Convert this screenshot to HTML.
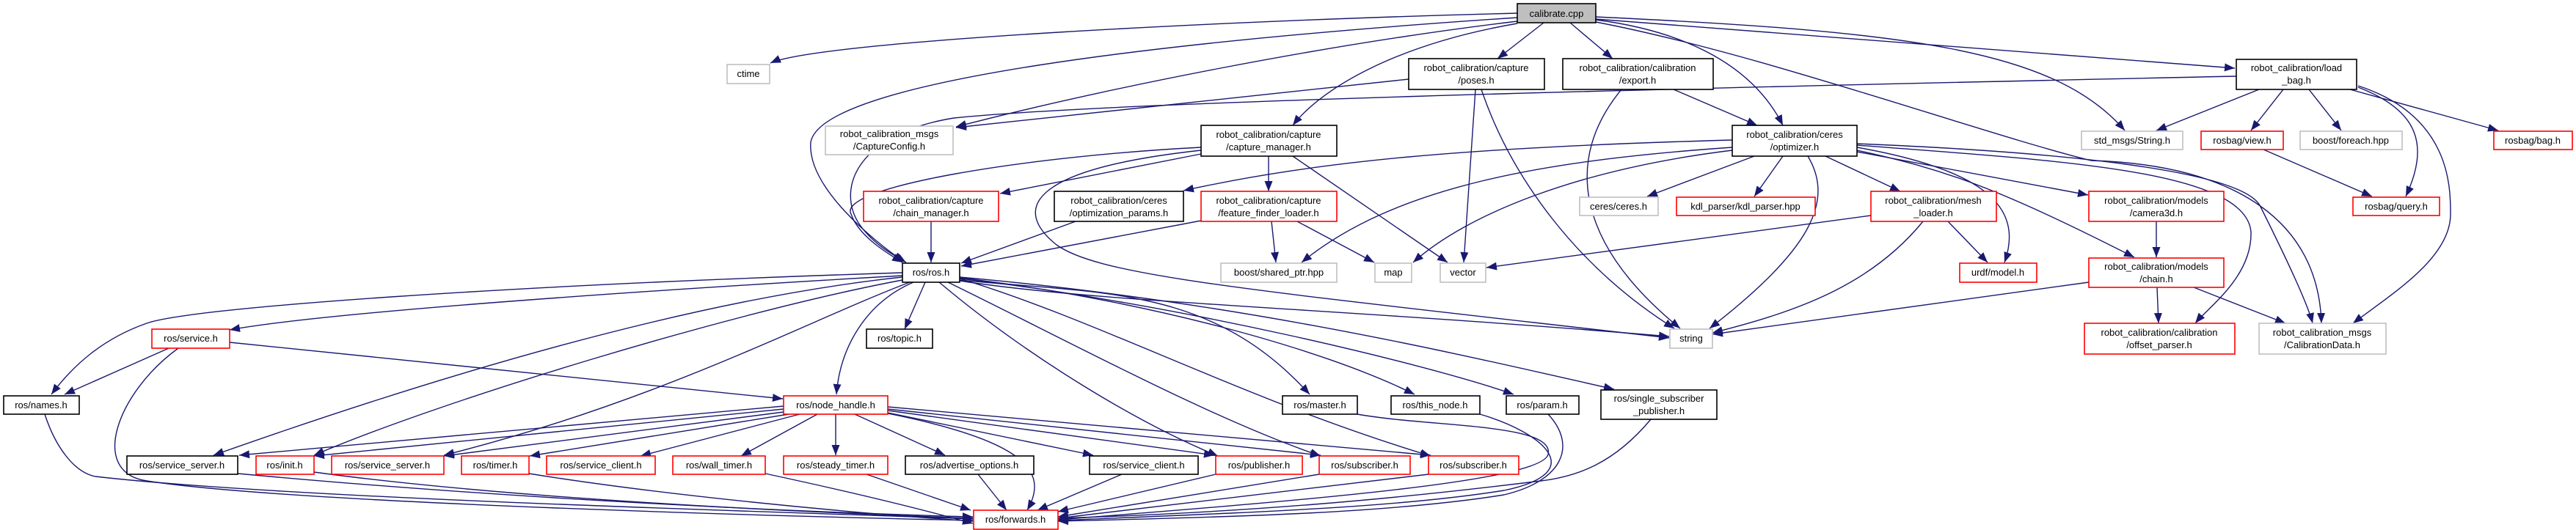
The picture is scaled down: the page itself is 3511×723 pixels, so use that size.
<!DOCTYPE html>
<html><head><meta charset="utf-8"><style>
html,body{margin:0;padding:0;background:#fff}
svg{display:block}
text{font-family:"Liberation Sans",sans-serif;font-size:13px;fill:#000}
</style></head><body>
<svg width="3511" height="723" viewBox="0 0 3511 723" xmlns="http://www.w3.org/2000/svg">
<defs>
<marker id="a" markerUnits="userSpaceOnUse" markerWidth="16" markerHeight="12" refX="14" refY="5.5" orient="auto">
<path d="M0,0 L14,5.5 L0,11 z" fill="#191970"/>
</marker>
</defs>
<g fill="none" stroke="#191970" stroke-width="1.4" marker-end="url(#a)">
<path d="M2068,18 C1700,27 1120,55 1050,86"/>
<path d="M2068,24 C1600,55 1120,109 1105,194 C1100,255 1190,328 1232,357"/>
<path d="M2068,29 C1800,61 1500,122 1303,173"/>
<path d="M2068,32 C1900,61 1800,122 1762,171"/>
<path d="M2104,31 L2041,80"/>
<path d="M2140,31 L2198,80"/>
<path d="M2175,27 C2300,43 2390,91 2430,171"/>
<path d="M2175,23 C2600,43 2800,67 2896,178"/>
<path d="M2175,26 C2500,49 2800,73 3046,93"/>
<path d="M2175,30 C2400,73 2700,182 2850,219 C3050,225 3160,304 3164,441"/>
<path d="M1920,108 L1303,174"/>
<path d="M2011,122 L1995,358"/>
<path d="M2019,122 C2060,243 2150,365 2282,448"/>
<path d="M2210,122 C2130,219 2150,334 2290,448"/>
<path d="M2281,122 L2395,171"/>
<path d="M1637,201 C1400,213 1140,255 1160,292 C1170,322 1210,346 1230,358"/>
<path d="M1637,210 L1363,264"/>
<path d="M1729,213 L1729,261"/>
<path d="M1762,213 L1973,358"/>
<path d="M1637,205 C1400,231 1380,286 1440,334 C1500,377 1700,395 2275,461"/>
<path d="M1269,302 L1269,358"/>
<path d="M1466,302 L1310,359"/>
<path d="M1637,301 L1310,363"/>
<path d="M1733,302 L1739,358"/>
<path d="M1768,302 L1873,358"/>
<path d="M2361,191 C2000,201 1800,219 1613,260"/>
<path d="M2361,201 C2100,219 1900,255 1774,358"/>
<path d="M2361,205 C2150,231 2000,292 1926,358"/>
<path d="M2391,213 L2245,268"/>
<path d="M2430,213 L2391,268"/>
<path d="M2464,213 C2500,273 2470,340 2330,448"/>
<path d="M2488,213 L2590,261"/>
<path d="M2531,201 C2700,231 2760,280 2732,358"/>
<path d="M2531,205 C2650,231 2720,255 2909,351"/>
<path d="M2531,207 L2846,266"/>
<path d="M2531,198 C2800,219 3060,231 3068,316 C3070,377 3010,419 2992,441"/>
<path d="M2531,196 C2800,207 3050,231 3080,280 C3110,340 3145,413 3152,441"/>
<path d="M2550,294 L2026,365"/>
<path d="M2621,302 C2550,389 2450,425 2334,454"/>
<path d="M2655,302 L2709,358"/>
<path d="M2939,302 L2939,351"/>
<path d="M2847,385 L2334,456"/>
<path d="M2940,392 L2942,441"/>
<path d="M2990,392 L3115,441"/>
<path d="M3048,104 C2200,122 1500,140 1300,161 C1170,182 1140,255 1170,304 C1190,334 1220,349 1235,358"/>
<path d="M3079,122 L2939,178"/>
<path d="M3112,122 L3068,178"/>
<path d="M3147,122 L3191,178"/>
<path d="M3203,122 L3405,178"/>
<path d="M3214,119 C3300,152 3310,201 3279,268"/>
<path d="M3214,117 C3340,158 3340,255 3340,292 C3340,352 3260,401 3207,441"/>
<path d="M3085,204 L3233,268"/>
<path d="M1230,372 C700,389 260,419 200,441 C140,462 100,498 70,538"/>
<path d="M1230,376 C900,395 450,425 313,450"/>
<path d="M1230,378 C900,413 500,547 291,621"/>
<path d="M1230,382 C1000,425 600,547 428,621"/>
<path d="M1240,385 C1100,438 900,547 605,621"/>
<path d="M1245,385 C1180,413 1145,474 1140,538"/>
<path d="M1261,385 L1233,449"/>
<path d="M1280,385 C1400,486 1550,577 1660,622"/>
<path d="M1292,385 C1450,462 1650,571 1800,622"/>
<path d="M1308,380 C1500,438 1700,547 1950,622"/>
<path d="M1308,382 C1500,401 1650,389 1785,538"/>
<path d="M1308,379 C1550,407 1800,474 1928,538"/>
<path d="M1308,380 C1600,413 1950,498 2063,538"/>
<path d="M1308,378 C1700,413 2000,486 2200,531"/>
<path d="M1308,383 C1500,413 1800,419 2275,459"/>
<path d="M230,475 L88,538"/>
<path d="M313,467 L1067,544"/>
<path d="M243,475 C160,535 120,644 200,656 C400,687 1100,705 1326,710"/>
<path d="M61,565 C75,608 100,644 130,650 C400,681 1100,699 1326,708"/>
<path d="M1068,554 L326,621"/>
<path d="M1068,558 L428,622"/>
<path d="M1068,562 L605,622"/>
<path d="M1075,565 L722,622"/>
<path d="M1090,565 L873,622"/>
<path d="M1114,565 L1010,622"/>
<path d="M1139,565 L1139,621"/>
<path d="M1165,565 L1288,621"/>
<path d="M1210,563 L1490,621"/>
<path d="M1210,560 L1655,621"/>
<path d="M1210,558 L1800,621"/>
<path d="M1210,555 L1950,621"/>
<path d="M1210,564 C1400,602 1430,644 1400,696"/>
<path d="M324,646 C700,681 1100,699 1326,705"/>
<path d="M428,644 C700,681 1100,699 1326,707"/>
<path d="M721,646 C900,675 1150,699 1326,711"/>
<path d="M1043,646 C1150,669 1250,693 1326,714"/>
<path d="M1181,647 L1323,696"/>
<path d="M1333,647 L1372,696"/>
<path d="M1529,647 L1414,696"/>
<path d="M1657,647 L1442,698"/>
<path d="M1798,647 L1442,705"/>
<path d="M1947,647 L1442,707"/>
<path d="M1850,565 C1950,583 2120,577 2110,620 C2100,656 1800,681 1442,709"/>
<path d="M2017,565 C2100,589 2170,644 2050,669 C1900,693 1700,699 1442,710"/>
<path d="M2110,565 C2150,608 2130,656 2050,675 C1900,699 1700,705 1442,711"/>
<path d="M2250,572 C2200,632 2150,650 2100,656 C1900,681 1700,699 1442,707"/>
</g>
<g stroke-width="1.6">
<rect x="2068" y="5" width="107" height="26" fill="#bfbfbf" stroke="#000"/>
<text x="2121.5" y="23" text-anchor="middle">calibrate.cpp</text>

<rect x="991" y="88" width="58" height="26" fill="#fff" stroke="#bfbfbf"/>
<text x="1020" y="105" text-anchor="middle">ctime</text>

<rect x="1125" y="172" width="174" height="39" fill="#fff" stroke="#bfbfbf"/>
<text x="1212" y="187" text-anchor="middle">robot_calibration_msgs</text><text x="1212" y="204" text-anchor="middle">/CaptureConfig.h</text>

<rect x="1920" y="80" width="185" height="42" fill="#fff" stroke="#000"/>
<text x="2012" y="97" text-anchor="middle">robot_calibration/capture</text><text x="2012" y="114" text-anchor="middle">/poses.h</text>

<rect x="2130" y="80" width="205" height="42" fill="#fff" stroke="#000"/>
<text x="2232" y="97" text-anchor="middle">robot_calibration/calibration</text><text x="2232" y="114" text-anchor="middle">/export.h</text>

<rect x="3048" y="81" width="164" height="41" fill="#fff" stroke="#000"/>
<text x="3130" y="97" text-anchor="middle">robot_calibration/load</text><text x="3130" y="114" text-anchor="middle">_bag.h</text>

<rect x="1637" y="171" width="185" height="42" fill="#fff" stroke="#000"/>
<text x="1729" y="188" text-anchor="middle">robot_calibration/capture</text><text x="1729" y="205" text-anchor="middle">/capture_manager.h</text>

<rect x="2361" y="171" width="170" height="42" fill="#fff" stroke="#000"/>
<text x="2446" y="188" text-anchor="middle">robot_calibration/ceres</text><text x="2446" y="205" text-anchor="middle">/optimizer.h</text>

<rect x="2837" y="179" width="138" height="25" fill="#fff" stroke="#bfbfbf"/>
<text x="2906" y="196" text-anchor="middle">std_msgs/String.h</text>
<rect x="3000" y="179" width="112" height="25" fill="#fff" stroke="#f00"/>
<text x="3056" y="196" text-anchor="middle">rosbag/view.h</text>
<rect x="3135" y="179" width="139" height="25" fill="#fff" stroke="#bfbfbf"/>
<text x="3204" y="196" text-anchor="middle">boost/foreach.hpp</text>
<rect x="3399" y="179" width="107" height="25" fill="#fff" stroke="#f00"/>
<text x="3452" y="196" text-anchor="middle">rosbag/bag.h</text>

<rect x="1177" y="261" width="184" height="41" fill="#fff" stroke="#f00"/>
<text x="1269" y="278" text-anchor="middle">robot_calibration/capture</text><text x="1269" y="295" text-anchor="middle">/chain_manager.h</text>
<rect x="1437" y="261" width="176" height="41" fill="#fff" stroke="#000"/>
<text x="1525" y="278" text-anchor="middle">robot_calibration/ceres</text><text x="1525" y="295" text-anchor="middle">/optimization_params.h</text>
<rect x="1637" y="261" width="185" height="41" fill="#fff" stroke="#f00"/>
<text x="1729" y="278" text-anchor="middle">robot_calibration/capture</text><text x="1729" y="295" text-anchor="middle">/feature_finder_loader.h</text>
<rect x="2153" y="269" width="107" height="25" fill="#fff" stroke="#bfbfbf"/>
<text x="2206" y="286" text-anchor="middle">ceres/ceres.h</text>
<rect x="2285" y="269" width="189" height="25" fill="#fff" stroke="#f00"/>
<text x="2379" y="286" text-anchor="middle">kdl_parser/kdl_parser.hpp</text>
<rect x="2550" y="261" width="171" height="41" fill="#fff" stroke="#f00"/>
<text x="2635" y="278" text-anchor="middle">robot_calibration/mesh</text><text x="2635" y="295" text-anchor="middle">_loader.h</text>
<rect x="2847" y="261" width="184" height="41" fill="#fff" stroke="#f00"/>
<text x="2939" y="278" text-anchor="middle">robot_calibration/models</text><text x="2939" y="295" text-anchor="middle">/camera3d.h</text>
<rect x="3207" y="269" width="118" height="25" fill="#fff" stroke="#f00"/>
<text x="3266" y="286" text-anchor="middle">rosbag/query.h</text>

<rect x="1230" y="359" width="78" height="26" fill="#fff" stroke="#000"/>
<text x="1269" y="376" text-anchor="middle">ros/ros.h</text>
<rect x="1664" y="359" width="158" height="26" fill="#fff" stroke="#bfbfbf"/>
<text x="1743" y="376" text-anchor="middle">boost/shared_ptr.hpp</text>
<rect x="1874" y="359" width="50" height="26" fill="#fff" stroke="#bfbfbf"/>
<text x="1899" y="376" text-anchor="middle">map</text>
<rect x="1963" y="359" width="62" height="26" fill="#fff" stroke="#bfbfbf"/>
<text x="1994" y="376" text-anchor="middle">vector</text>
<rect x="2671" y="359" width="105" height="26" fill="#fff" stroke="#f00"/>
<text x="2723" y="376" text-anchor="middle">urdf/model.h</text>
<rect x="2847" y="352" width="184" height="40" fill="#fff" stroke="#f00"/>
<text x="2939" y="368" text-anchor="middle">robot_calibration/models</text><text x="2939" y="385" text-anchor="middle">/chain.h</text>

<rect x="207" y="449" width="106" height="26" fill="#fff" stroke="#f00"/>
<text x="260" y="466" text-anchor="middle">ros/service.h</text>
<rect x="1181" y="449" width="90" height="26" fill="#fff" stroke="#000"/>
<text x="1226" y="466" text-anchor="middle">ros/topic.h</text>
<rect x="2276" y="449" width="58" height="26" fill="#fff" stroke="#bfbfbf"/>
<text x="2305" y="466" text-anchor="middle">string</text>
<rect x="2841" y="441" width="205" height="42" fill="#fff" stroke="#f00"/>
<text x="2943" y="458" text-anchor="middle">robot_calibration/calibration</text><text x="2943" y="475" text-anchor="middle">/offset_parser.h</text>
<rect x="3079" y="441" width="173" height="42" fill="#fff" stroke="#bfbfbf"/>
<text x="3165" y="458" text-anchor="middle">robot_calibration_msgs</text><text x="3165" y="475" text-anchor="middle">/CalibrationData.h</text>

<rect x="5" y="540" width="103" height="25" fill="#fff" stroke="#000"/>
<text x="56" y="557" text-anchor="middle">ros/names.h</text>
<rect x="1068" y="540" width="142" height="25" fill="#fff" stroke="#f00"/>
<text x="1139" y="557" text-anchor="middle">ros/node_handle.h</text>
<rect x="1748" y="540" width="102" height="25" fill="#fff" stroke="#000"/>
<text x="1799" y="557" text-anchor="middle">ros/master.h</text>
<rect x="1896" y="540" width="121" height="25" fill="#fff" stroke="#000"/>
<text x="1956" y="557" text-anchor="middle">ros/this_node.h</text>
<rect x="2053" y="540" width="99" height="25" fill="#fff" stroke="#000"/>
<text x="2102" y="557" text-anchor="middle">ros/param.h</text>
<rect x="2182" y="532" width="158" height="40" fill="#fff" stroke="#000"/>
<text x="2261" y="548" text-anchor="middle">ros/single_subscriber</text><text x="2261" y="565" text-anchor="middle">_publisher.h</text>

<rect x="173" y="622" width="151" height="25" fill="#fff" stroke="#000"/>
<text x="248" y="639" text-anchor="middle">ros/service_server.h</text>
<rect x="349" y="622" width="79" height="25" fill="#fff" stroke="#f00"/>
<text x="388" y="639" text-anchor="middle">ros/init.h</text>
<rect x="452" y="622" width="153" height="25" fill="#fff" stroke="#f00"/>
<text x="528" y="639" text-anchor="middle">ros/service_server.h</text>
<rect x="629" y="622" width="92" height="25" fill="#fff" stroke="#f00"/>
<text x="675" y="639" text-anchor="middle">ros/timer.h</text>
<rect x="745" y="622" width="148" height="25" fill="#fff" stroke="#f00"/>
<text x="819" y="639" text-anchor="middle">ros/service_client.h</text>
<rect x="917" y="622" width="126" height="25" fill="#fff" stroke="#f00"/>
<text x="980" y="639" text-anchor="middle">ros/wall_timer.h</text>
<rect x="1068" y="622" width="142" height="25" fill="#fff" stroke="#f00"/>
<text x="1139" y="639" text-anchor="middle">ros/steady_timer.h</text>
<rect x="1234" y="622" width="175" height="25" fill="#fff" stroke="#000"/>
<text x="1321" y="639" text-anchor="middle">ros/advertise_options.h</text>
<rect x="1485" y="622" width="148" height="25" fill="#fff" stroke="#000"/>
<text x="1559" y="639" text-anchor="middle">ros/service_client.h</text>
<rect x="1657" y="622" width="118" height="25" fill="#fff" stroke="#f00"/>
<text x="1716" y="639" text-anchor="middle">ros/publisher.h</text>
<rect x="1798" y="622" width="124" height="25" fill="#fff" stroke="#f00"/>
<text x="1860" y="639" text-anchor="middle">ros/subscriber.h</text>
<rect x="1947" y="622" width="123" height="25" fill="#fff" stroke="#f00"/>
<text x="2008" y="639" text-anchor="middle">ros/subscriber.h</text>

<rect x="1327" y="696" width="115" height="26" fill="#fff" stroke="#f00"/>
<text x="1384" y="713" text-anchor="middle">ros/forwards.h</text>
</g>
</svg>
</body></html>
